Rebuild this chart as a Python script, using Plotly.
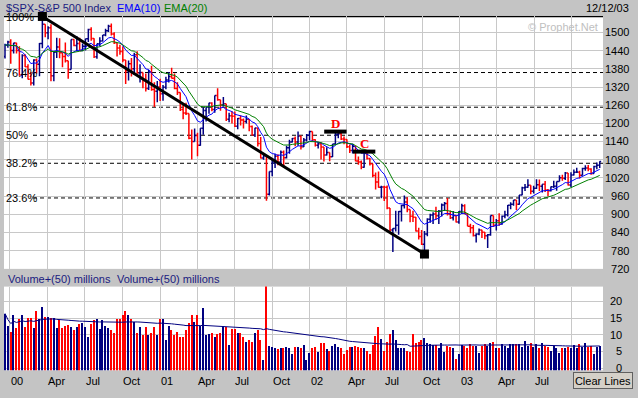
import pandas as pd
import plotly.graph_objects as go

W, H = 638, 398

# ---------------- data (weekly bars, first week starting 1999-12-20) ----------------
start_date = "1999-12-20"

opens = [
    1421, 1458,
    # 2000
    1469, 1441, 1465, 1441, 1360, 1424, 1387, 1346, 1333, 1409, 1395, 1464, 1527, 1499, 1516, 1357,
    1435, 1452, 1433, 1421, 1407, 1378, 1477, 1457, 1464, 1441, 1455, 1479, 1510, 1480, 1420, 1463,
    1472, 1492, 1506, 1521, 1495, 1466, 1449, 1437, 1409, 1374, 1397, 1380, 1427, 1366, 1368, 1342,
    1315, 1370, 1312, 1306,
    # 2001
    1320, 1298, 1319, 1343, 1355, 1349, 1315, 1302, 1246, 1234, 1233, 1151, 1140, 1160, 1128, 1184,
    1243, 1253, 1267, 1246, 1292, 1278, 1261, 1265, 1214, 1225, 1224, 1191, 1216, 1211, 1206, 1214,
    1190, 1162, 1185, 1134, 1086, 1093, 966, 1041, 1071, 1092, 1073, 1105, 1087, 1120, 1139, 1150,
    1139, 1158, 1123, 1145, 1161,
    # 2002
    1173, 1146, 1128, 1133, 1122, 1096, 1104, 1090, 1132, 1164, 1166, 1149, 1147, 1123, 1111, 1125,
    1076, 1073, 1055, 1107, 1084, 1067, 1028, 1007, 989, 990, 989, 921, 848, 853, 864, 909,
    929, 941, 916, 894, 890, 845, 827, 801, 835, 884, 898, 901, 895, 910, 931, 936,
    902, 889, 896, 875,
    # 2003
    909, 928, 902, 861, 856, 830, 835, 848, 841, 829, 833, 896, 864, 879, 868, 894,
    899, 930, 933, 947, 933, 964, 988, 989, 996, 976, 986, 998, 993, 999, 980, 978,
    991, 993, 1008, 1021, 1019, 1036, 997, 1030, 1038.7, 1039, 1029, 1051, 1053, 1050, 1035, 1058,
    1062,
]

highs = [
    1463, 1473,
    # 2000
    1478, 1466, 1466, 1455, 1428, 1428, 1395, 1370, 1412, 1414, 1465, 1553, 1527, 1521, 1527, 1438,
    1483, 1481, 1434, 1467, 1407, 1477, 1478, 1488, 1483, 1464, 1479, 1512, 1517, 1481, 1463, 1484,
    1492, 1512, 1526, 1530, 1501, 1466, 1460, 1454, 1409, 1408, 1416, 1433, 1438, 1395, 1368, 1365,
    1376, 1390, 1336, 1340,
    # 2001
    1347, 1327, 1354, 1370, 1384, 1365, 1336, 1302, 1267, 1268, 1233, 1180, 1183, 1169, 1184, 1253,
    1253, 1268, 1270, 1292, 1316, 1278, 1287, 1265, 1235, 1240, 1239, 1218, 1226, 1216, 1226, 1214,
    1193, 1186, 1185, 1155, 1100, 1093, 1041, 1085, 1100, 1098, 1111, 1111, 1126, 1146, 1152, 1157,
    1173, 1160, 1152, 1165, 1176,
    # 2002
    1173, 1148, 1139, 1138, 1122, 1121, 1104, 1132, 1173, 1173, 1172, 1157, 1148, 1130, 1133, 1126,
    1091, 1078, 1107, 1107, 1086, 1067, 1038, 1041, 994, 994, 995, 921, 854, 912, 911, 931,
    962, 956, 916, 912, 891, 856, 848, 845, 887, 902, 907, 925, 914, 936, 941, 954,
    913, 911, 898, 911,
    # 2003
    935, 933, 902, 869, 865, 838, 853, 849, 842, 835, 896, 896, 885, 904, 896, 912,
    931, 940, 947, 947, 964, 991, 1000, 1016, 996, 994, 1016, 1015, 999, 1010, 984, 992,
    1011, 1008, 1029, 1031, 1040, 1036, 1039, 1048, 1054, 1044, 1054, 1062, 1063, 1052, 1060, 1071,
    1075,
]

lows = [
    1414, 1450,
    # 2000
    1397, 1431, 1431, 1357, 1349, 1386, 1345, 1325, 1325, 1365, 1356, 1448, 1484, 1478, 1339, 1339,
    1416, 1415, 1385, 1401, 1347, 1378, 1455, 1438, 1440, 1438, 1441, 1469, 1473, 1416, 1413, 1454,
    1470, 1488, 1502, 1490, 1462, 1421, 1427, 1402, 1330, 1342, 1355, 1361, 1364, 1335, 1316, 1305,
    1310, 1308, 1254, 1270,
    # 2001
    1274, 1275, 1313, 1335, 1348, 1313, 1294, 1241, 1214, 1228, 1148, 1081, 1140, 1092, 1126, 1163,
    1206, 1232, 1240, 1235, 1275, 1242, 1256, 1208, 1204, 1200, 1188, 1181, 1193, 1183, 1200, 1174,
    1160, 1155, 1124, 1084, 1080, 945, 962, 1026, 1053, 1062, 1066, 1054, 1084, 1100, 1137, 1125,
    1126, 1114, 1122, 1140, 1145,
    # 2002
    1142, 1124, 1117, 1081, 1074, 1094, 1075, 1089, 1130, 1151, 1145, 1131, 1119, 1102, 1101, 1075,
    1064, 1049, 1054, 1081, 1061, 1022, 982, 988, 953, 944, 917, 845, 776, 843, 833, 876,
    919, 907, 874, 875, 843, 817, 799, 769, 828, 872, 868, 882, 868, 893, 911, 896,
    885, 880, 873, 869,
    # 2003
    901, 900, 861, 838, 827, 807, 831, 822, 818, 789, 829, 858, 847, 862, 866, 887,
    893, 917, 928, 914, 932, 963, 977, 988, 966, 969, 984, 977, 972, 974, 960, 975,
    987, 978, 1008, 1011, 1013, 995, 990, 1028, 1036, 1018, 1028, 1044, 1042, 1031, 1035, 1049,
    1053,
]

closes = [
    1458, 1469,
    # 2000
    1441, 1465, 1441, 1360, 1424, 1387, 1346, 1333, 1409, 1395, 1464, 1527, 1499, 1516, 1357, 1435,
    1452, 1433, 1421, 1407, 1378, 1477, 1457, 1464, 1441, 1455, 1479, 1510, 1480, 1420, 1463, 1472,
    1492, 1506, 1521, 1495, 1466, 1449, 1437, 1409, 1374, 1397, 1380, 1427, 1366, 1368, 1342, 1315,
    1370, 1312, 1306, 1320,
    # 2001
    1298, 1319, 1343, 1355, 1349, 1315, 1302, 1246, 1234, 1233, 1151, 1140, 1160, 1128, 1184, 1243,
    1253, 1267, 1246, 1292, 1278, 1261, 1265, 1214, 1225, 1224, 1191, 1216, 1211, 1206, 1214, 1190,
    1162, 1185, 1134, 1086, 1093, 966, 1041, 1071, 1092, 1073, 1105, 1087, 1120, 1139, 1150, 1139,
    1158, 1123, 1145, 1161, 1173,
    # 2002
    1146, 1128, 1133, 1122, 1096, 1104, 1090, 1132, 1164, 1166, 1149, 1147, 1123, 1111, 1125, 1076,
    1073, 1055, 1107, 1084, 1067, 1028, 1007, 989, 990, 989, 921, 848, 853, 864, 909, 929,
    941, 916, 894, 890, 845, 827, 801, 835, 884, 898, 901, 895, 910, 931, 936, 902,
    889, 896, 875, 909,
    # 2003
    928, 902, 861, 856, 830, 835, 848, 841, 829, 833, 896, 864, 879, 868, 894, 899,
    930, 933, 947, 933, 964, 988, 989, 996, 976, 986, 998, 993, 999, 980, 978, 991,
    993, 1008, 1021, 1019, 1036, 997, 1030, 1039, 1039.3, 1029, 1051, 1053, 1050, 1035, 1058, 1062,
    1074,
]

volumes = [
    # Dec 1999 - Dec 2000
    16.4, 12.7, 11.0, 16.1, 12.3, 14.9, 15.9, 12.5, 15.1, 15.1, 12.2, 17.1, 14.9, 18.3, 15.4, 15.4,
    15.2, 15.1, 12.2, 14.4, 12.2, 12.8, 13.2, 12.5, 11.5, 12.5, 13.4, 13.7, 12.5, 9.6, 13.4, 14.4,
    14.7, 12.0, 14.6, 12.8, 12.2, 11.7, 10.6, 14.9, 14.9, 15.9, 17.1, 15.9, 14.9, 13.9, 10.6, 12.5,
    10.0, 12.5, 10.0, 10.6, 12.5, 10.0,
    # Jan 2001 - Sep 2001
    14.9, 14.9, 8.5, 12.9, 11.5, 10.0, 11.0, 9.5, 9.6, 11.5, 13.7, 15.9, 14.0, 16.1, 12.9, 18.0,
    10.0, 10.3, 10.6, 9.6, 10.4, 10.6, 12.9, 12.5, 7.1, 12.0, 12.0, 10.6, 10.6, 9.5, 8.0, 8.7,
    8.0, 10.6, 11.5, 8.5,
    # Sep 2001 - Jan 2002
    2.7, 30.0, 6.8, 6.5, 6.1, 5.9, 6.1, 6.3, 6.5, 6.3, 4.3, 6.5, 6.5, 6.1, 7.1, 2.7,
    4.8, 6.3, 6.5, 5.1,
    # Jan 2002 - Feb 2003
    7.8, 7.8, 5.9, 5.3, 6.8, 7.4, 6.6, 6.3, 4.4, 5.6, 6.6, 6.4, 6.9, 6.6, 6.3, 6.3,
    5.3, 4.4, 7.2, 9.7, 12.6, 8.8, 5.3, 7.9, 10.3, 11.5, 8.5, 6.3, 6.1, 6.1, 5.3, 4.9,
    10.3, 7.8, 8.1, 8.6, 9.2, 7.6, 7.3, 7.1, 7.1, 6.3, 7.6, 4.9, 6.8, 6.6, 6.1, 2.9,
    4.4, 7.2, 6.9, 6.1, 7.3, 6.9, 6.8, 4.8, 6.8,
    # Mar 2003 - Dec 2003
    7.3, 6.8, 7.6, 7.9, 6.3, 6.1, 7.3, 6.9, 6.1, 7.3, 7.3, 7.3, 7.3, 6.6, 8.2, 6.8,
    7.6, 6.6, 7.4, 6.1, 7.6, 6.9, 6.6, 5.3, 6.9, 6.3, 4.6, 6.3, 6.3, 6.6, 6.3, 7.1,
    6.3, 7.3, 6.6, 7.6, 6.6, 6.9, 4.3, 6.6, 6.9,
]

price_ticks = [1500, 1440, 1380, 1320, 1260, 1200, 1140, 1080, 1020, 960, 900, 840, 780, 720]
volume_ticks = [0, 5, 10, 15, 20]

quarter_ticks = ["2000-01-01", "2000-04-01", "2000-07-01", "2000-10-01",
                 "2001-01-01", "2001-04-01", "2001-07-01", "2001-10-01",
                 "2002-01-01", "2002-04-01", "2002-07-01", "2002-10-01",
                 "2003-01-01", "2003-04-01", "2003-07-01", "2003-10-01"]
quarter_labels = ["00", "Apr", "Jul", "Oct", "01", "Apr", "Jul", "Oct",
                  "02", "Apr", "Jul", "Oct", "03", "Apr", "Jul", "Oct"]
# the last label sits under the "Clear Lines" button in the original
labels_under_button = ["2003-10-01"]

fib_ratios = [1.0, 0.764, 0.618, 0.5, 0.382, 0.236]
fib_labels = ["100%", "76.4%", "61.8%", "50%", "38.2%", "23.6%"]

pattern_labels = ["D", "C"]
pattern_dates = ["2002-03-04", "2002-05-13"]

# ---------------- derived series ----------------
n = len(closes)
dates = pd.date_range(start_date, periods=n, freq="7D")
cs = pd.Series(closes)
ema10 = cs.ewm(span=10, adjust=False).mean()
ema20 = cs.ewm(span=20, adjust=False).mean()
vol_ma = pd.Series(volumes).rolling(50, min_periods=1).mean()

NAVY = "#000080"
RED = "#ff0000"
vol_colors = [NAVY if c >= o else RED for o, c in zip(opens, closes)]

hi_i = max(range(n), key=lambda i: highs[i])
lo_i = min(range(n), key=lambda i: lows[i])
hi_v, lo_v = highs[hi_i], lows[lo_i]
fib_levels = [lo_v + r * (hi_v - lo_v) for r in fib_ratios]

date_index = {d.strftime("%Y-%m-%d"): i for i, d in enumerate(dates)}
pat_idx = [date_index[d] for d in pattern_dates]

FONT = "Liberation Sans, Arial, sans-serif"

fig = go.Figure()

fig.add_trace(go.Ohlc(
    x=dates, open=opens, high=highs, low=lows, close=closes,
    increasing=dict(line=dict(color=NAVY, width=1.5)),
    decreasing=dict(line=dict(color=RED, width=1.5)),
    tickwidth=0.5, xaxis="x", yaxis="y", hoverinfo="skip"))

fig.add_trace(go.Scatter(x=dates, y=ema10, mode="lines",
                         line=dict(color="#0000ff", width=1), xaxis="x", yaxis="y"))
fig.add_trace(go.Scatter(x=dates, y=ema20, mode="lines",
                         line=dict(color="#008000", width=1), xaxis="x", yaxis="y"))

# trend line from the high to the low
fig.add_trace(go.Scatter(
    x=[dates[hi_i], dates[lo_i]], y=[hi_v, lo_v], mode="lines+markers",
    line=dict(color="black", width=3),
    marker=dict(symbol="square", size=9, color="black"),
    cliponaxis=False, xaxis="x", yaxis="y"))

# D / C pattern marks
fig.add_trace(go.Scatter(
    x=[dates[i] for i in pat_idx], y=[highs[i] for i in pat_idx],
    mode="markers",
    marker=dict(symbol="line-ew", size=16, line=dict(width=4, color="black")),
    cliponaxis=False, xaxis="x", yaxis="y"))

# volume
fig.add_trace(go.Bar(x=dates, y=[v + 0.6 for v in volumes], base=-0.6,
                     marker=dict(color=vol_colors, line=dict(width=0)),
                     width=3.5 * 24 * 3600 * 1000, xaxis="x2", yaxis="y2"))
fig.add_trace(go.Scatter(x=dates, y=vol_ma, mode="lines",
                         line=dict(color=NAVY, width=1), xaxis="x2", yaxis="y2"))

x_dom = [4 / W, 603 / W]
x_range = ["1999-12-17 13:00", "2003-12-16 00:00"]
axis_font = dict(family=FONT, size=11, color="black")

def fmt_price(v):
    s = str(v)
    return "\u2007" * (4 - len(s)) + s

fig.update_layout(
    width=W, height=H, margin=dict(l=0, r=0, t=0, b=0),
    paper_bgcolor="#c4c4c4", plot_bgcolor="#ffffff",
    showlegend=False, bargap=0,
    xaxis=dict(domain=x_dom, range=x_range, type="date", anchor="y",
               tickvals=quarter_ticks, showticklabels=False, ticks="",
               showgrid=True, gridcolor="#c8c8c8", gridwidth=1,
               zeroline=False, showline=False, rangeslider=dict(visible=False)),
    yaxis=dict(domain=[1 - 273 / H, 1 - 16.08 / H], range=[720, 1555], anchor="x",
               side="right", tickvals=price_ticks,
               ticktext=[fmt_price(v) for v in price_ticks],
               ticks="", tickfont=axis_font, ticklabelstandoff=1,
               showgrid=True, gridcolor="#c8c8c8", gridwidth=1,
               zeroline=False, showline=False),
    xaxis2=dict(domain=x_dom, range=x_range, type="date", anchor="y2", matches="x",
                tickvals=quarter_ticks, showticklabels=False, ticks="",
                showgrid=True, gridcolor="#c8c8c8", gridwidth=1,
                zeroline=False, showline=False, rangeslider=dict(visible=False)),
    yaxis2=dict(domain=[1 - 376 / H, 1 - 291 / H], range=[-0.6, 24.4], anchor="x2",
                side="right", tickvals=volume_ticks,
                ticktext=[("\u2007" if v < 10 else "") + str(v) for v in volume_ticks],
                ticks="", tickfont=axis_font, ticklabelstandoff=6,
                showgrid=True, gridcolor="#c8c8c8", gridwidth=1,
                zeroline=False, showline=False),
)

shapes = []
annotations = []

# Fibonacci lines
for r, lvl in zip(fib_ratios, fib_levels):
    shapes.append(dict(type="line", xref="x domain", yref="y",
                       x0=(33 - 4) / 599 if r < 1 else 0, x1=1, y0=lvl, y1=lvl,
                       line=dict(color="black", width=1.5 if r == 1 else 1,
                                 dash="solid" if r == 1 else "4px,3px"),
                       layer="below"))
for r, lab, lvl in zip(fib_ratios, fib_labels, fib_levels):
    annotations.append(dict(xref="paper", yref="y", x=4 / W, y=lvl, text=lab,
                            showarrow=False, xanchor="left", yanchor="middle",
                            yshift=-1 if r == 1 else 0,
                            font=dict(family=FONT, size=11, color="black")))

# D / C letters sitting on their marks
for i, lab in zip(pat_idx, pattern_labels):
    annotations.append(dict(xref="x", yref="y", x=dates[i], y=highs[i], text="<b>%s</b>" % lab,
                            showarrow=False, xanchor="center", yanchor="bottom", yshift=-1,
                            font=dict(family="Liberation Serif, Times New Roman, serif",
                                      size=13, color=RED)))

# x tick labels (left aligned at the quarter gridlines)
for t, lab in zip(quarter_ticks, quarter_labels):
    if t in labels_under_button:
        continue
    annotations.append(dict(xref="x2", yref="paper", x=t, y=1 - 387 / H, text=lab,
                            showarrow=False, xanchor="left", yanchor="middle", xshift=-1,
                            font=dict(family=FONT, size=11, color="black")))

# header texts
annotations += [
    dict(xref="paper", yref="paper", x=4 / W, y=1 - 8.5 / H,
         text="$SPX-S&amp;P 500 Index", showarrow=False, xanchor="left", yanchor="middle",
         font=dict(family=FONT, size=11, color="#1a1a80")),
    dict(xref="paper", yref="paper", x=115 / W, y=1 - 8.5 / H, text="EMA(10)",
         showarrow=False, xanchor="left", yanchor="middle",
         font=dict(family=FONT, size=11, color="#0000ff")),
    dict(xref="paper", yref="paper", x=162 / W, y=1 - 8.5 / H, text="EMA(20)",
         showarrow=False, xanchor="left", yanchor="middle",
         font=dict(family=FONT, size=11, color="#008000")),
    dict(xref="paper", yref="paper", x=631 / W, y=1 - 8.5 / H, text="12/12/03",
         showarrow=False, xanchor="right", yanchor="middle",
         font=dict(family=FONT, size=11, color="black")),
    dict(xref="paper", yref="paper", x=600 / W, y=1 - 27 / H, text="\u00a9 Prophet.Net",
         showarrow=False, xanchor="right", yanchor="middle",
         font=dict(family=FONT, size=11, color="#c0c0c0")),
    dict(xref="paper", yref="paper", x=6 / W, y=1 - 283 / H, text="Volume+(50) millions",
         showarrow=False, xanchor="left", yanchor="middle",
         font=dict(family=FONT, size=11, color="#1a1a80")),
    dict(xref="paper", yref="paper", x=115 / W, y=1 - 283 / H, text="Volume+(50) millions",
         showarrow=False, xanchor="left", yanchor="middle",
         font=dict(family=FONT, size=11, color="#1a1a80")),
    dict(xref="paper", yref="paper", x=602.5 / W, y=1 - 386.5 / H, text="Clear Lines",
         showarrow=False, xanchor="center", yanchor="middle",
         width=58, height=15, bgcolor="#d4d0c8", bordercolor="#606060", borderwidth=1,
         borderpad=0,
         font=dict(family=FONT, size=11, color="black")),
]

fig.update_layout(shapes=shapes, annotations=annotations)
fig.write_html("out.html",
               config={"displayModeBar": False},
               post_script="document.body.style.margin='0px';"
                           "document.body.style.overflow='hidden';")
